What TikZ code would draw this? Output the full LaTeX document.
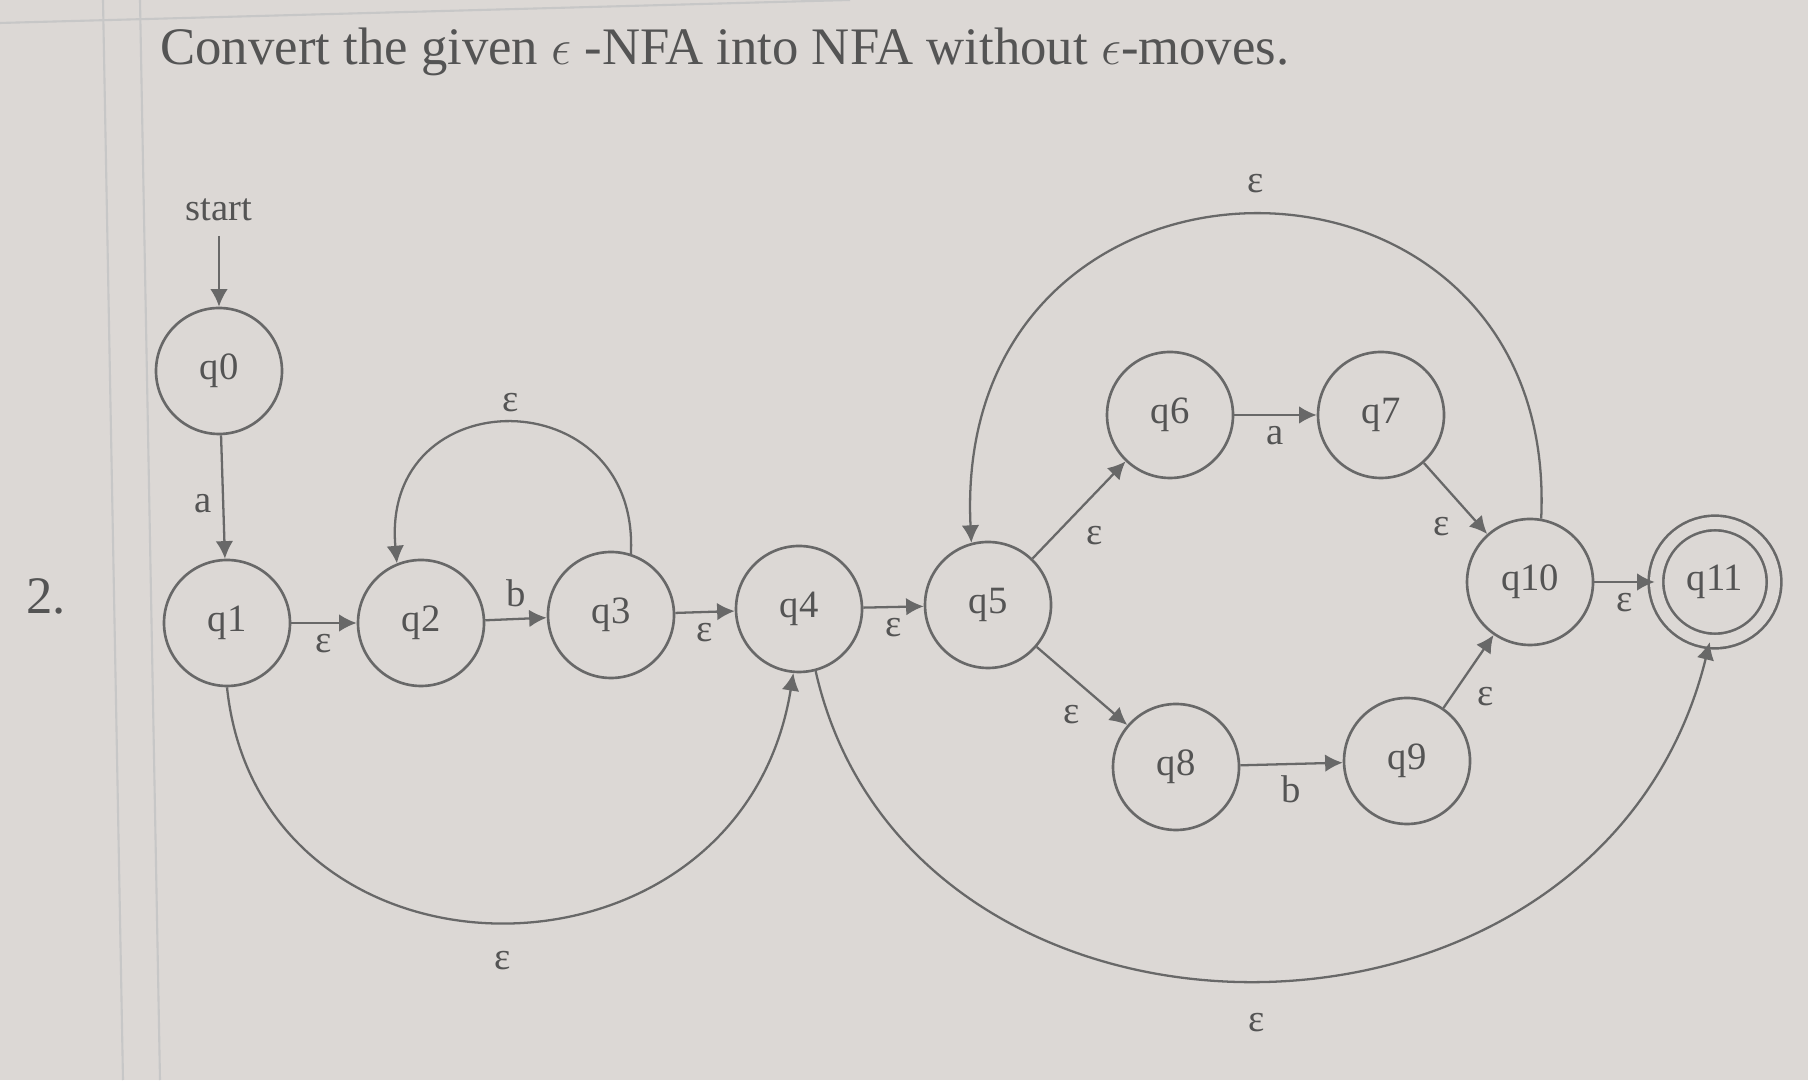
\documentclass[tikz,border=0pt]{standalone}
\usepackage{fontspec}
\setmainfont{Liberation Serif}
\usetikzlibrary{arrows.meta}

\definecolor{carta}{HTML}{DCD8D5}
\definecolor{tratto}{HTML}{686868}
\definecolor{inchiostro}{HTML}{545454}

\begin{document}
\begin{tikzpicture}[font=\fontsize{11}{13}\selectfont,
  stato/.style={circle,draw=tratto,line width=0.75pt,minimum size=1.26cm,inner sep=0pt,text=inchiostro},
  finale/.style={stato,minimum size=1.18cm,double=carta,double distance=3.4pt},
  freccia/.style={draw=tratto,line width=0.65pt,-{Latex[length=5pt,width=5pt]}},
  etich/.style={text=inchiostro,inner sep=3pt}]

\useasboundingbox (0,0) rectangle (18.08,10.8);
\fill[carta] (0,0) rectangle (18.08,10.8);

% righe del foglio
\draw[black!22,line width=0.6pt] (1.03,10.8) -- (1.23,0);
\draw[black!22,line width=0.6pt] (1.40,10.8) -- (1.60,0);
\draw[black!22,line width=0.6pt] (0,10.57) -- (8.5,10.8);

\node[anchor=base west,text=inchiostro,font=\fontsize{15}{18}\selectfont] (titolo) at (1.48,10.15)
  {Convert the given $\epsilon$ -NFA into NFA without $\epsilon$-moves.};
\node[anchor=base west,text=inchiostro,font=\fontsize{15}{18}\selectfont] (numero) at (0.14,4.66) {2.};

% stati
\node[stato] (q0) at (2.19,7.09) {q0};
\node[stato] (q1) at (2.27,4.57) {q1};
\node[stato] (q2) at (4.21,4.57) {q2};
\node[stato] (q3) at (6.11,4.65) {q3};
\node[stato] (q4) at (7.99,4.71) {q4};
\node[stato] (q5) at (9.88,4.75) {q5};
\node[stato] (q6) at (11.70,6.65) {q6};
\node[stato] (q7) at (13.81,6.65) {q7};
\node[stato] (q8) at (11.76,3.13) {q8};
\node[stato] (q9) at (14.07,3.19) {q9};
\node[stato] (q10) at (15.30,4.98) {q10};
\node[finale] (q11) at (17.15,4.98) {q11};

\node[etich] (start) at (2.19,8.70) {start};
\coordinate (s) at (2.19,8.44);
\draw[freccia] (s) -- (q0);

% transizioni
\draw[freccia] (q0) -- node[etich,left,pos=0.55] {a} (q1);
\draw[freccia] (q1) -- node[etich,below] {ε} (q2);
\draw[freccia] (q2) -- node[etich,above] {b} (q3);
\draw[freccia] (q3.72) .. controls (6.4,7.02) and (3.8,7.02) .. node[etich,above] {ε} (q2.112);
\draw[freccia] (q3) -- node[etich,below] {ε} (q4);
\draw[freccia] (q4) -- node[etich,below] {ε} (q5);
\draw[freccia] (q1.south) .. controls (2.6,0.78) and (7.4,0.78) .. node[etich,below,inner sep=8pt] {ε} (q4.265);

\draw[freccia] (q5) -- node[etich,below right,pos=0.45] {ε} (q6);
\draw[freccia] (q5) -- node[etich,below left,pos=0.6] {ε} (q8);
\draw[freccia] (q6) -- node[etich,below] {a} (q7);
\draw[freccia] (q8) -- node[etich,below] {b} (q9);
\draw[freccia] (q7) -- node[etich,below left,pos=0.6] {ε} (q10);
\draw[freccia] (q9) -- node[etich,below right,pos=0.45] {ε} (q10);
\draw[freccia] (q10) -- node[etich,below] {ε} (q11);

\draw[freccia] (q10.80) .. controls (15.6,9.7) and (9.5,9.7) .. node[etich,above,inner sep=6pt] {ε} (q5.105);
\draw[freccia] (q4.-75) .. controls (9.1,-0.08) and (16.0,-0.08) .. node[etich,below,inner sep=9pt] {ε} (q11.-95);

\end{tikzpicture}
\end{document}
